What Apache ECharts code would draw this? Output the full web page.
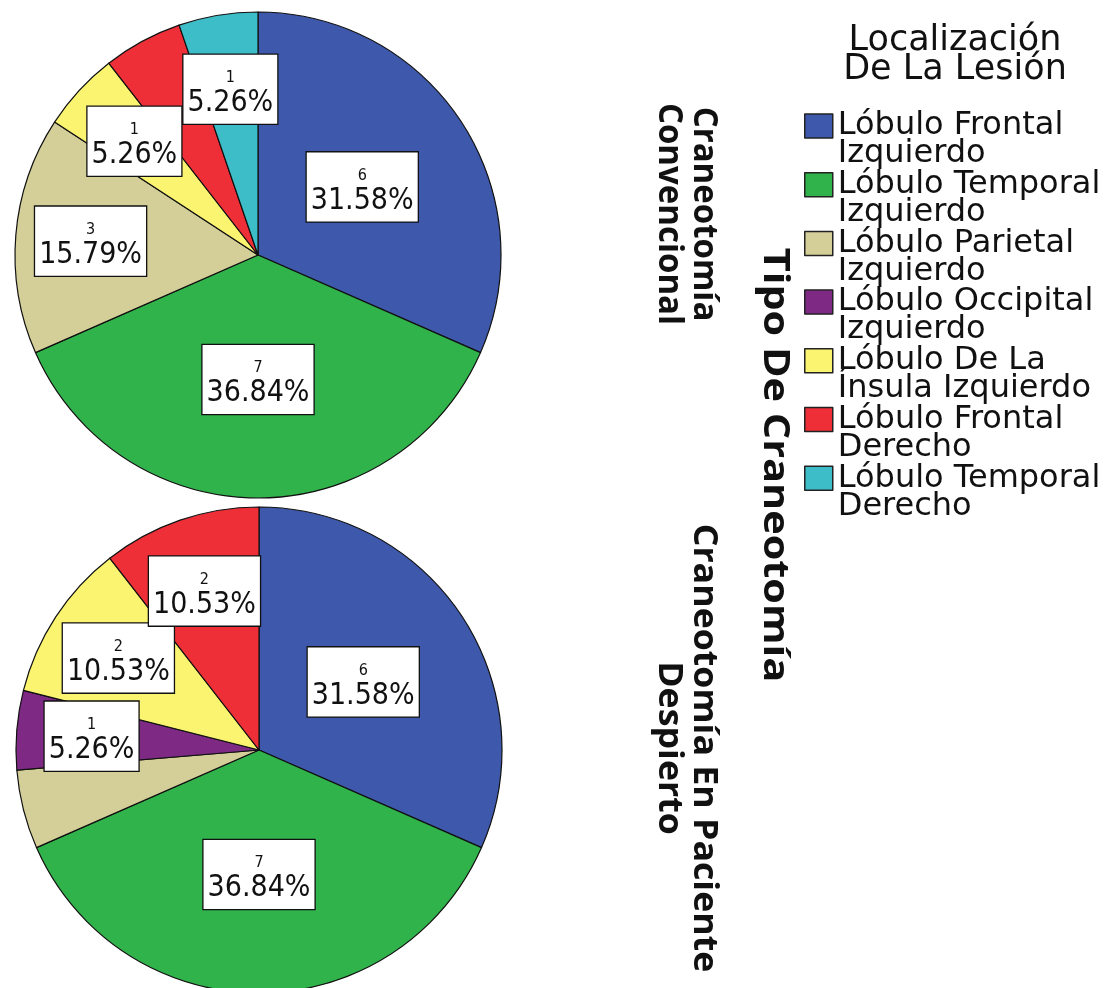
<!DOCTYPE html>
<html>
<head>
<meta charset="utf-8">
<script src="https://cdn.jsdelivr.net/npm/echarts@6/dist/echarts.min.js"></script>
<style>
  html, body { margin: 0; padding: 0; background: #fff; }
  #chart { width: 1111px; height: 988px; }
</style>
</head>
<body>
<div id="chart"></div>
<script>
// Localización de la lesión (leyenda)
const categories = [
  'Lóbulo Frontal\nIzquierdo',
  'Lóbulo Temporal\nIzquierdo',
  'Lóbulo Parietal\nIzquierdo',
  'Lóbulo Occipital\nIzquierdo',
  'Lóbulo De La\nÍnsula Izquierdo',
  'Lóbulo Frontal\nDerecho',
  'Lóbulo Temporal\nDerecho'
]
const colors = ['#3E58AC', '#31B34B', '#D4CF98', '#7E2A84', '#FBF470', '#EE2F38', '#3DBDC8']

// Tipo de craneotomía
const groups = ['Craneotomía\nConvencional', 'Craneotomía En Paciente\nDespierto']
const convencional = [6, 7, 3, 0, 1, 1, 1]
const despierto = [6, 7, 1, 1, 2, 2, 0]
// etiquetas que el original no muestra (índice de categoría)
const hiddenConvencional = [5]
const hiddenDespierto = [2]

const labelFont = 'Liberation Sans Narrow, DejaVu Sans Condensed, sans-serif'
const R = 243

function pieData (values, hidden, inner) {
  const out = []
  values.forEach((v, i) => {
    if (v === 0) return
    const big = v >= 6
    out.push({
      name: categories[i],
      value: v,
      itemStyle: { color: inner ? colors[i] : 'rgba(0,0,0,0)' },
      label: { show: inner ? big : (!big && hidden.indexOf(i) < 0) }
    })
  })
  return out
}

function labelStyle (values) {
  const total = values.reduce((a, b) => a + b, 0)
  return {
    position: 'inside',
    formatter: p => '{c|' + p.value + '}\n{p|' + (p.value / total * 100).toFixed(2) + '%}',
    backgroundColor: '#fff',
    borderColor: '#111',
    borderWidth: 1.3,
    padding: [13, 4, 5, 4],
    rich: {
      c: { fontFamily: labelFont, fontSize: 16, lineHeight: 20, color: '#111', align: 'center' },
      p: { fontFamily: labelFont, fontSize: 30, lineHeight: 31, color: '#111', align: 'center' }
    }
  }
}

function mainPie (values, hidden, center) {
  return {
    type: 'pie',
    center: center,
    radius: [0, R],
    startAngle: 90,
    clockwise: true,
    animation: false,
    silent: true,
    itemStyle: { borderColor: '#111', borderWidth: 1.2 },
    label: labelStyle(values),
    labelLine: { show: false },
    labelLayout: { hideOverlap: false },
    emphasis: { disabled: true },
    data: pieData(values, hidden, true)
  }
}

// anillo transparente: solo lleva las etiquetas de los sectores pequeños
function labelRing (values, hidden, center) {
  return {
    type: 'pie',
    center: center,
    radius: [87, R],
    startAngle: 90,
    clockwise: true,
    animation: false,
    silent: true,
    legendHoverLink: false,
    avoidLabelOverlap: false,
    itemStyle: { borderWidth: 0 },
    label: labelStyle(values),
    labelLine: { show: false },
    labelLayout: { hideOverlap: false },
    emphasis: { disabled: true },
    data: pieData(values, hidden, false)
  }
}

const topCenter = [258, 255]
const bottomCenter = [259, 750]

const vText = {
  align: 'center',
  verticalAlign: 'middle',
  fontFamily: 'Open Sans',
  fontWeight: 'bold',
  fontSize: 34,
  lineHeight: 35,
  fill: '#111'
}

let myChart = echarts.init(document.getElementById('chart'))
myChart.setOption({
  backgroundColor: '#fff',
  legend: {
    orient: 'vertical',
    left: 799,
    top: 77,
    icon: 'rect',
    itemWidth: 28,
    itemHeight: 24,
    itemGap: -29.3,
    selectedMode: false,
    data: categories,
    formatter: name => '\n' + name,
    itemStyle: { borderColor: '#222', borderWidth: 1.5 },
    textStyle: {
      fontFamily: 'DejaVu Sans',
      fontSize: 32,
      lineHeight: 28,
      color: '#111'
    }
  },
  graphic: [
    {
      type: 'text',
      x: 955,
      y: 26,
      style: {
        text: 'Localización\nDe La Lesión',
        align: 'center',
        verticalAlign: 'top',
        fontFamily: 'DejaVu Sans',
        fontSize: 35,
        lineHeight: 29,
        fill: '#111'
      }
    },
    {
      type: 'text',
      x: 686,
      y: 214,
      rotation: -Math.PI / 2,
      scaleX: 0.97,
      style: Object.assign({ text: groups[0] }, vText)
    },
    {
      type: 'text',
      x: 774,
      y: 465,
      rotation: -Math.PI / 2,
      scaleX: 1.15,
      style: Object.assign({}, vText, { text: 'Tipo De Craneotomía', fontSize: 36 })
    },
    {
      type: 'text',
      x: 686,
      y: 748,
      rotation: -Math.PI / 2,
      scaleX: 1.05,
      style: Object.assign({ text: groups[1] }, vText)
    }
  ],
  series: [
    mainPie(convencional, hiddenConvencional, topCenter),
    mainPie(despierto, hiddenDespierto, bottomCenter),
    labelRing(convencional, hiddenConvencional, topCenter),
    labelRing(despierto, hiddenDespierto, bottomCenter)
  ]
})
</script>
</body>
</html>
